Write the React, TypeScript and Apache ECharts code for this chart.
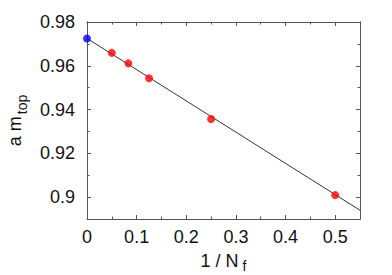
import React, { useEffect, useRef } from "react";
import * as echarts from "echarts";

const fitLine: [number, number][] = [
  [0, 0.9725],
  [0.55, 0.894],
];
const extrapolated: [number, number][] = [[0, 0.9725]];
const measured: [number, number][] = [
  [0.05, 0.9659],
  [0.0833, 0.9611],
  [0.125, 0.9543],
  [0.25, 0.9357],
  [0.5, 0.9009],
];
const xRange = { min: 0, max: 0.55, interval: 0.1 };
const yRange = { min: 0.89, max: 0.98 };
const yMajorTicks = [0.9, 0.92, 0.94, 0.96, 0.98];
const yMinorTicks = [0.89, 0.91, 0.93, 0.95, 0.97];

const FONT = "Liberation Sans";
const AXIS_COLOR = "#555";
const FS = 18;
const SUB = 14;

export default function App() {
  const ref = useRef<HTMLDivElement>(null);
  useEffect(() => {
    const chart = echarts.init(ref.current!, null, { renderer: "svg" });
    const lineCommon = {
      axisLine: { show: true, lineStyle: { color: AXIS_COLOR, width: 1 } },
      splitLine: { show: false },
    };
    const xCommon = {
      type: "value",
      min: xRange.min,
      max: xRange.max,
      interval: xRange.interval,
      ...lineCommon,
      axisTick: { show: true, inside: true, length: 4, lineStyle: { color: AXIS_COLOR } },
      minorTick: { show: true, splitNumber: 2, length: 2.5, lineStyle: { color: AXIS_COLOR } },
    };
    const yAxisFor = (position: string, major: boolean, labels: boolean) => ({
      type: "value",
      position,
      min: yRange.min,
      max: yRange.max,
      ...lineCommon,
      axisTick: {
        show: true,
        inside: true,
        length: major ? 4 : 2.5,
        customValues: major ? yMajorTicks : yMinorTicks,
        lineStyle: { color: AXIS_COLOR },
      },
      axisLabel: labels
        ? { show: true, fontSize: FS, color: "#111", margin: 12, fontFamily: FONT, customValues: yMajorTicks }
        : { show: false },
    });
    chart.setOption({
      animation: false,
      backgroundColor: "#fff",
      textStyle: { fontFamily: FONT },
      grid: { left: 87, right: 32, top: 22, bottom: 56, containLabel: false, outerBoundsMode: "none" },
      xAxis: [
        {
          ...xCommon,
          axisLabel: {
            fontSize: FS,
            color: "#111",
            margin: 9,
            fontFamily: FONT,
            showMaxLabel: false,
          },
          name: "{n|1 / N}{s| f}",
          nameLocation: "middle",
          nameGap: 33,
          nameTextStyle: {
            rich: {
              n: { fontSize: FS, fontFamily: FONT, color: "#111", verticalAlign: "bottom" },
              s: { fontSize: SUB, fontFamily: FONT, color: "#111", verticalAlign: "bottom", padding: [0, 0, -3, 0] },
            },
          },
        },
        {
          ...xCommon,
          position: "top",
          axisLabel: { show: false },
        },
      ],
      yAxis: [
        {
          ...yAxisFor("left", true, true),
          name: "{n|a m}{s|top}",
          nameLocation: "middle",
          nameRotate: 90,
          nameGap: 62,
          nameTextStyle: {
            rich: {
              n: { fontSize: FS, fontFamily: FONT, color: "#111", verticalAlign: "bottom" },
              s: { fontSize: SUB, fontFamily: FONT, color: "#111", verticalAlign: "bottom", padding: [0, 0, -5, 2] },
            },
          },
        },
        yAxisFor("left", false, false),
        yAxisFor("right", true, false),
        yAxisFor("right", false, false),
      ],
      series: [
        {
          type: "line",
          data: fitLine,
          symbol: "none",
          lineStyle: { color: "#333", width: 1 },
          z: 1,
        },
        {
          type: "scatter",
          data: measured,
          symbolSize: 8,
          itemStyle: { color: "#f00" },
          z: 2,
        },
        {
          type: "scatter",
          data: extrapolated,
          symbolSize: 8,
          itemStyle: { color: "#00f" },
          z: 3,
        },
      ],
    });
    return () => chart.dispose();
  }, []);
  return (
    <div
      ref={ref}
      style={{ position: "fixed", left: 0, top: 0, width: 392, height: 275 }}
    />
  );
}
